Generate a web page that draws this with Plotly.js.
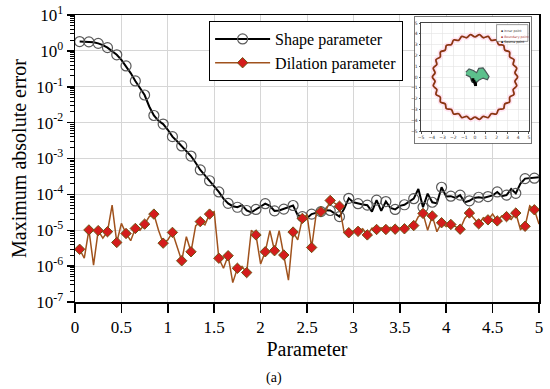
<!DOCTYPE html>
<html>
<head>
<meta charset="utf-8">
<script src="https://cdn.plot.ly/plotly-3.0.1.min.js"></script>
<style>html,body{margin:0;padding:0;background:#fff;}#chart{width:550px;height:389px;}</style>
</head>
<body>
<div id="chart"></div>
<script>
// ---- main chart data ----
const paramX = [0.05,0.1,0.15,0.2,0.25,0.3,0.35,0.4,0.45,0.5,0.55,0.6,0.65,0.7,0.75,0.8,0.85,0.9,0.95,1,
1.05,1.1,1.15,1.2,1.25,1.3,1.35,1.4,1.45,1.5,1.55,1.6,1.65,1.7,1.75,1.8,1.85,1.9,1.95,2,
2.05,2.1,2.15,2.2,2.25,2.3,2.35,2.4,2.45,2.5,2.55,2.6,2.65,2.7,2.75,2.8,2.85,2.9,2.95,3,
3.05,3.1,3.15,3.2,3.25,3.3,3.35,3.4,3.45,3.5,3.55,3.6,3.65,3.7,3.75,3.8,3.85,3.9,3.95,4,
4.05,4.1,4.15,4.2,4.25,4.3,4.35,4.4,4.45,4.5,4.55,4.6,4.65,4.7,4.75,4.8,4.85,4.9,4.95,5];

const shapeErr = [1.82,1.82,1.78,1.74,1.62,1.45,1.23,1.0,0.776,0.562,
0.380,0.240,0.145,0.0912,0.0589,0.0282,0.0158,0.0112,0.00912,0.00631,
0.00407,0.00302,0.00224,0.00162,0.00117,7.59e-4,4.79e-4,3.39e-4,2.40e-4,1.66e-4,
1.17e-4,7.59e-5,5.62e-5,4.68e-5,4.37e-5,5.01e-5,3.55e-5,3.16e-5,3.80e-5,4.68e-5,
5.50e-5,4.79e-5,3.47e-5,3.55e-5,3.89e-5,4.37e-5,4.90e-5,2.63e-5,2.40e-5,2.19e-5,
2.82e-5,3.02e-5,3.31e-5,3.63e-5,3.55e-5,2.95e-5,2.40e-5,3.98e-5,7.76e-5,6.03e-5,
5.50e-5,5.25e-5,5.01e-5,3.31e-5,6.92e-5,3.47e-5,6.31e-5,4.17e-5,3.80e-5,4.79e-5,
5.13e-5,6.31e-5,7.59e-5,1.41e-4,4.37e-5,1.05e-4,6.03e-5,5.62e-5,1.58e-4,8.71e-5,
8.91e-5,7.94e-5,9.55e-5,6.03e-5,6.61e-5,7.94e-5,8.32e-5,7.94e-5,8.71e-5,9.33e-5,
1.17e-4,8.91e-5,9.55e-5,1.41e-4,1.07e-4,2.00e-4,2.75e-4,2.82e-4,2.82e-4,3.02e-4];

const dilationErr = [2.95e-6,1.66e-6,1.02e-5,1.07e-6,9.77e-6,6.03e-6,9.12e-6,5.01e-5,4.57e-6,1.55e-5,
8.13e-6,5.13e-6,1.12e-5,1.00e-5,1.48e-5,2.40e-5,2.82e-5,1.00e-5,4.37e-6,5.37e-6,
8.71e-6,3.55e-6,1.41e-6,6.61e-6,2.51e-6,1.32e-5,1.74e-5,1.41e-5,2.82e-5,3.31e-5,
1.66e-6,8.71e-7,1.95e-6,3.47e-7,8.71e-7,9.77e-7,6.61e-7,1.00e-5,7.41e-6,1.15e-6,
2.51e-6,9.77e-6,2.69e-6,9.77e-6,2.04e-6,4.07e-7,8.91e-6,5.37e-6,2.14e-5,2.69e-5,
3.31e-6,3.02e-5,3.31e-5,3.31e-5,6.76e-5,5.62e-5,4.68e-5,8.71e-6,8.51e-6,9.55e-6,
9.33e-6,1.10e-5,7.41e-6,1.15e-5,1.05e-5,1.17e-5,1.05e-5,1.20e-5,1.07e-5,1.15e-5,
1.10e-5,1.26e-5,1.35e-5,2.40e-5,2.95e-5,1.00e-5,2.51e-5,9.12e-6,1.62e-5,1.26e-5,
1.45e-5,1.26e-5,1.07e-5,2.14e-5,3.02e-5,2.14e-5,1.51e-5,2.24e-5,1.95e-5,2.82e-5,
1.82e-5,2.51e-5,2.40e-5,2.00e-5,3.02e-5,1.05e-5,1.29e-5,4.79e-5,3.72e-5,1.48e-5];

const seriesNames = ['Shape parameter', 'Dilation parameter'];
const xTickVals = [0,0.5,1,1.5,2,2.5,3,3.5,4,4.5,5];
const xTickText = ['0','0.5','1','1.5','2','2.5','3','3.5','4','4.5','5'];
const yTickVals = [1e-7,1e-6,1e-5,1e-4,1e-3,1e-2,1e-1,1e0,1e1];
const yTickText = ['10<sup>-7</sup>','10<sup>-6</sup>','10<sup>-5</sup>','10<sup>-4</sup>','10<sup>-3</sup>','10<sup>-2</sup>','10<sup>-1</sup>','10<sup>0</sup>','10<sup>1</sup>'];

// ---- inset data (domain geometry) ----
const bndTheta = [0,6,12,18,24,30,36,42,48,54,60,66,72,78,84,90,96,102,108,114,120,126,132,138,144,150,156,162,168,174,
180,186,192,198,204,210,216,222,228,234,240,246,252,258,264,270,276,282,288,294,300,306,312,318,324,330,336,342,348,354,360];
const bndR = [3.95,3.72,3.95,3.72,3.95,3.72,3.95,3.72,3.95,3.72,3.95,3.72,3.95,3.72,3.95,3.72,3.95,3.72,3.95,3.72,
3.95,3.72,3.95,3.72,3.95,3.72,3.95,3.72,3.95,3.72,3.95,3.72,3.95,3.72,3.95,3.72,3.95,3.72,3.95,3.72,
3.95,3.72,3.95,3.72,3.95,3.72,3.95,3.72,3.95,3.72,3.95,3.72,3.95,3.72,3.95,3.72,3.95,3.72,3.95,3.72,3.95];
const blobX = [-0.85,-0.55,-0.15,0.15,0.35,0.75,1.0,1.3,1.15,0.75,0.35,0.05,-0.3,-0.45,-0.85];
const blobY = [0.45,0.75,0.6,0.4,0.8,0.85,0.5,0.05,-0.25,-0.1,-0.3,-0.6,-0.45,0.0,0.2];
const srcX = [-0.2,-0.1,0.0,0.05];
const srcY = [-0.25,-0.4,-0.55,-0.7];
const insetTicks = [-5,-4,-3,-2,-1,0,1,2,3,4,5];
const insetLegend = ['Inner point','Boundary point','Source point'];

// polar boundary description -> cartesian coordinates of the inset axes
const bndX = bndTheta.map((t, i) => bndR[i] * Math.cos(t * Math.PI / 180));
const bndY = bndTheta.map((t, i) => bndR[i] * Math.sin(t * Math.PI / 180));

const serif = 'Liberation Serif';
const oddIdx = (arr) => arr.filter((_, i) => i % 2 === 0);

const shapeLine = {color:'#000000', width:2};
const shapeMarker = {symbol:'circle-open', size:10, color:'#5a5a5a', line:{width:1.2, color:'#5a5a5a'}};
const dilLine = {color:'#a0521d', width:1.5};
const dilMarker = {symbol:'diamond', size:8, color:'#d41c1c', line:{width:1, color:'#6e5414'}};

const traces = [
  {x: paramX, y: shapeErr, mode:'lines', line: shapeLine, showlegend:false, hoverinfo:'skip'},
  {x: oddIdx(paramX), y: oddIdx(shapeErr), mode:'markers', marker: shapeMarker, showlegend:false, hoverinfo:'skip'},
  {x: paramX, y: dilationErr, mode:'lines', line: dilLine, showlegend:false, hoverinfo:'skip'},
  {x: oddIdx(paramX), y: oddIdx(dilationErr), mode:'markers', marker: dilMarker, showlegend:false, hoverinfo:'skip'},
  {x:[null], y:[null], name: seriesNames[0], mode:'lines+markers', line: shapeLine, marker: shapeMarker},
  {x:[null], y:[null], name: seriesNames[1], mode:'lines+markers', line: dilLine, marker: dilMarker},
  // inset background subplot (empty)
  {x:[], y:[], xaxis:'x2', yaxis:'y2', mode:'markers', showlegend:false, hoverinfo:'skip'},
  // inset content
  {x: bndX, y: bndY, xaxis:'x3', yaxis:'y3', mode:'lines', line:{color:'#ffe3f1', width:5, shape:'spline'}, showlegend:false, hoverinfo:'skip'},
  {x: bndX, y: bndY, xaxis:'x3', yaxis:'y3', mode:'lines', line:{color:'#8b3512', width:1.8, shape:'spline'}, showlegend:false, hoverinfo:'skip'},
  {x: blobX, y: blobY, xaxis:'x3', yaxis:'y3', mode:'lines', fill:'toself', fillcolor:'#5cc08c', line:{color:'#4a5858', width:1.2}, showlegend:false, hoverinfo:'skip'},
  {x: srcX, y: srcY, xaxis:'x3', yaxis:'y3', mode:'markers', marker:{symbol:'square', size:3, color:'#000'}, showlegend:false, hoverinfo:'skip'}
];

const ix0 = 0.7457, ix1 = 0.9784, iy0 = 0.5958, iy1 = 0.9721;

const layout = {
  width:550, height:389,
  margin:{l:75, r:11, t:15, b:87},
  paper_bgcolor:'#ffffff', plot_bgcolor:'#ffffff',
  font:{family: serif, color:'#000'},
  xaxis:{
    range:[0,5], tickmode:'array', tickvals: xTickVals, ticktext: xTickText,
    ticks:'outside', ticklen:9, tickwidth:1.5, tickcolor:'#000',
    showline:true, linewidth:1.5, linecolor:'#000', mirror:true,
    showgrid:true, gridcolor:'#d6d6d6', gridwidth:1, zeroline:false,
    tickfont:{size:17, family: serif},
    title:{text:'Parameter', font:{size:20, family: serif}, standoff:6},
    domain:[0,1]
  },
  yaxis:{
    type:'log', range:[-7,1], tickmode:'array', tickvals: yTickVals, ticktext: yTickText,
    ticks:'outside', ticklen:7, tickwidth:1.5, tickcolor:'#000',
    minor:{ticks:'outside', ticklen:4, tickwidth:1, tickcolor:'#000', dtick:'D1', showgrid:false},
    showline:true, linewidth:1.5, linecolor:'#000', mirror:true,
    showgrid:true, gridcolor:'#d6d6d6', gridwidth:1, zeroline:false,
    tickfont:{size:17, family: serif},
    title:{text:'Maximum absolute error', font:{size:20, family: serif}, standoff:4}
  },
  xaxis2:{
    domain:[0.733, 0.983], anchor:'y2', range:[0,1], showticklabels:false, ticks:'',
    showgrid:false, zeroline:false, showline:true, mirror:true, linecolor:'#555', linewidth:0.8
  },
  yaxis2:{
    domain:[0.554, 0.993], anchor:'x2', range:[0,1], showticklabels:false, ticks:'',
    showgrid:false, zeroline:false, showline:true, mirror:true, linecolor:'#555', linewidth:0.8
  },
  xaxis3:{
    domain:[ix0, ix1], anchor:'y3', range:[-5,5], tickmode:'array', tickvals: insetTicks,
    ticks:'outside', ticklen:1.5, tickcolor:'#555', showline:true, linecolor:'#444', linewidth:1, mirror:true,
    showgrid:true, gridcolor:'#e2e2e2', gridwidth:0.6, zeroline:false,
    tickfont:{size:4.5, color:'#333', family:'DejaVu Sans'}
  },
  yaxis3:{
    domain:[iy0, iy1], anchor:'x3', range:[-5,5], tickmode:'array', tickvals: insetTicks,
    ticks:'outside', ticklen:1.5, tickcolor:'#555', showline:true, linecolor:'#444', linewidth:1, mirror:true,
    showgrid:true, gridcolor:'#e2e2e2', gridwidth:0.6, zeroline:false,
    tickfont:{size:4.5, color:'#333', family:'DejaVu Sans'}
  },
  legend:{
    x:0.289, y:0.979, xanchor:'left', yanchor:'top',
    bgcolor:'#ffffff', bordercolor:'#000', borderwidth:1,
    font:{size:16, family: serif}, itemwidth:55, tracegroupgap:0
  },
  shapes:[
    {type:'rect', xref:'x3 domain', yref:'y3 domain', x0:0.70, x1:0.99, y0:0.83, y1:0.985,
     fillcolor:'#ffffff', line:{color:'#555', width:0.6}, layer:'above'}
  ],
  annotations:[
    {xref:'paper', yref:'paper', x:0.429, y:-0.30, text:'(a)', showarrow:false, font:{size:14, family: serif}},
    {xref:'x3 domain', yref:'y3 domain', x:0.72, y:0.96, xanchor:'left', text:'▪ '+insetLegend[0], showarrow:false, font:{size:3.2, color:'#333', family:'DejaVu Sans'}},
    {xref:'x3 domain', yref:'y3 domain', x:0.72, y:0.91, xanchor:'left', text:'▪ '+insetLegend[1], showarrow:false, font:{size:3.2, color:'#a33', family:'DejaVu Sans'}},
    {xref:'x3 domain', yref:'y3 domain', x:0.72, y:0.86, xanchor:'left', text:'▪ '+insetLegend[2], showarrow:false, font:{size:3.2, color:'#000', family:'DejaVu Sans'}}
  ]
};

Plotly.newPlot('chart', traces, layout, {displayModeBar:false, staticPlot:true});
</script>
</body>
</html>
